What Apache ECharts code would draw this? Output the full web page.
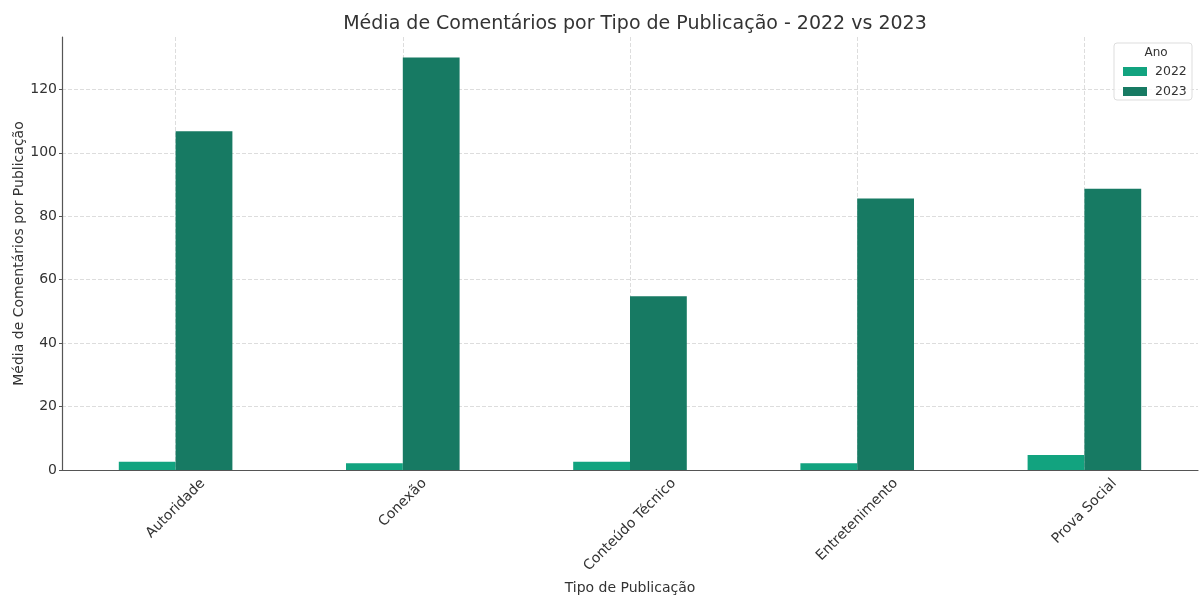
<!DOCTYPE html>
<html><head><meta charset="utf-8">
<script src="https://cdn.jsdelivr.net/npm/echarts@6/dist/echarts.min.js"></script>
<style>html,body{margin:0;padding:0;background:#fff}#c{width:1203px;height:598px}</style>
</head><body><div id="c"></div>
<script>
const categories = ["Autoridade", "Conexão", "Conteúdo Técnico", "Entretenimento", "Prova Social"];
const values2022 = [2.6, 2.1, 2.6, 2.1, 4.7];
const values2023 = [106.8, 130.0, 54.8, 85.6, 88.7];
const seriesNames = ["2022", "2023"];
const yTicksMax = 136.5;

const font = "DejaVu Sans";
const labelFontSize = 14;

const chart = echarts.init(document.getElementById('c'));
chart.setOption({
  animation: false,
  backgroundColor: '#fff',
  textStyle: { fontFamily: font },
  title: {
    text: "Média de Comentários por Tipo de Publicação - 2022 vs 2023",
    left: 630, textAlign: 'center', top: 10,
    textStyle: { fontFamily: font, fontSize: 19, fontWeight: 'normal', color: '#333' }
  },
  grid: { left: 62, right: 5, top: 37, bottom: 128, outerBoundsMode: 'none', containLabel: false },
  legend: {
    orient: 'vertical', left: 1118, top: 60,
    itemWidth: 24, itemHeight: 9, itemGap: 7,
    icon: 'rect',
    textStyle: { fontFamily: font, fontSize: 12.5, color: '#333', padding: [0, 0, 0, 3] },
    data: seriesNames
  },
  xAxis: {
    type: 'category', data: categories,
    name: 'Tipo de Publicação', nameLocation: 'middle', nameGap: 111, nameMoveOverlap: false,
    nameTextStyle: { fontFamily: font, fontSize: 14, color: '#333' },
    axisLine: { lineStyle: { color: '#555', width: 1.2 } },
    axisTick: { show: false, alignWithLabel: true },
    axisLabel: { show: false },
    splitLine: { show: true, alignWithLabel: true, lineStyle: { color: '#ddd', type: 'dashed' } }
  },
  yAxis: {
    type: 'value', min: 0, max: yTicksMax, interval: 20,
    name: 'Média de Comentários por Publicação', nameLocation: 'middle', nameGap: 36, nameMoveOverlap: false,
    nameTextStyle: { fontFamily: font, fontSize: 14, color: '#333' },
    axisLine: { show: true, lineStyle: { color: '#555', width: 1.2 } },
    axisTick: { show: true, length: 3, lineStyle: { color: '#555' } },
    axisLabel: { fontFamily: font, fontSize: 14, color: '#333', showMaxLabel: false, margin: 5 },
    splitLine: { show: true, showMaxLine: false, lineStyle: { color: '#ddd', type: 'dashed' } }
  },
  series: [
    { name: seriesNames[0], type: 'bar', data: values2022, barGap: '0%', barCategoryGap: '50%',
      itemStyle: { color: '#12a37f' } },
    { name: seriesNames[1], type: 'bar', data: values2023, barGap: '0%', barCategoryGap: '50%',
      itemStyle: { color: '#177a63' } }
  ]
});

// matplotlib-style rotated category labels (centred on the tick, top of rotated box just below the axis)
const ctx = document.createElement('canvas').getContext('2d');
ctx.font = labelFontSize + 'px "' + font + '"';
const axisY = chart.convertToPixel({ yAxisIndex: 0 }, 0);
const labelGraphics = categories.map(function (c, i) {
  const x = chart.convertToPixel({ xAxisIndex: 0 }, i);
  const w = ctx.measureText(c).width;
  const cy = axisY + 7 + (w + 12) * 0.35355;
  return {
    type: 'text', x: x, y: cy, rotation: Math.PI / 4,
    style: { text: c, fontFamily: font, fontSize: labelFontSize, fill: '#333', textAlign: 'center', textVerticalAlign: 'middle' },
    z: 10
  };
});

chart.setOption({
  graphic: [
    { type: 'rect', shape: { x: 1114, y: 43, width: 78, height: 57, r: 3 },
      style: { fill: 'rgba(255,255,255,0.8)', stroke: '#ddd', lineWidth: 1 }, z: 0 },
    { type: 'text', style: { x: 1156, y: 53, text: 'Ano', fontFamily: font, fontSize: 12, fill: '#333', textAlign: 'center', textVerticalAlign: 'middle' }, z: 1 }
  ].concat(labelGraphics)
});
</script></body></html>
